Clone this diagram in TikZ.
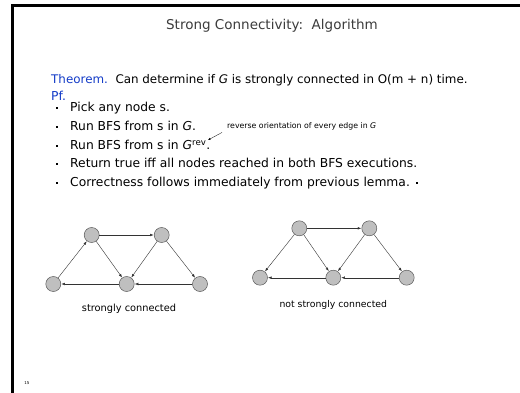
\documentclass[tikz,border=0pt]{standalone}
\usepackage{fontspec}
\setmainfont{DejaVu Sans}
\usetikzlibrary{arrows.meta}
\definecolor{thmblue}{RGB}{20,60,200}
\definecolor{titlegray}{RGB}{60,60,60}
\begin{document}
\begin{tikzpicture}[x=1pt,y=-1pt,
  vtx/.style={circle,draw=black!65,fill=black!25,minimum size=15pt,inner sep=0pt,line width=0.5pt},
  edge/.style={-{Latex[length=3.5pt,width=2.6pt]},line width=0.4pt,draw=black!80,shorten >=0.3pt},
  body/.style={anchor=base west,inner sep=0pt,font=\fontsize{12.3}{14}\selectfont},
  bul/.style={fill=black,minimum size=2pt,inner sep=0pt},
  lab/.style={inner sep=0pt,font=\fontsize{9.3}{11}\selectfont}
]
\useasboundingbox (0,0) rectangle (520,393);
\fill[white] (0,0) rectangle (520,393);
\draw[line width=3pt] (12,393) -- (12,6) -- (521,6);

\node[inner sep=0pt,anchor=base,text=titlegray,font=\fontsize{13.5}{15}\selectfont] (title) at (272,30) {Strong Connectivity:\ \ Algorithm};

\node[body,font=\fontsize{11.9}{14}\selectfont] (thm) at (51,84) {\textcolor{thmblue}{Theorem.}\ \ Can determine if \textit{G} is strongly connected in O(m + n) time.};
\node[body,text=thmblue] (pf) at (51,101) {Pf.};

\node[bul] (b1) at (57,108) {};
\node[bul] (b2) at (57,127) {};
\node[bul] (b3) at (57,146) {};
\node[bul] (b4) at (57,164) {};
\node[bul] (b5) at (57,183) {};
\node[body] (l1) at (70,111.5) {Pick any node s.};
\node[body] (l2) at (70,130.5) {Run BFS from s in \textit{G}.};
\node[body] (l3) at (70,149.5) {Run BFS from s in \textit{G}\textsuperscript{rev}.};
\node[body] (l4) at (70,167.5) {Return true iff all nodes reached in both BFS executions.};
\node[body] (l5) at (70,186.5) {Correctness follows immediately from previous lemma.};
\node[bul] (qed) at (417,183) {};

\node[anchor=base west,inner sep=0pt,font=\fontsize{7.8}{9}\selectfont] (note) at (227,129) {reverse orientation of every edge in \textit{G}};
\coordinate (ns) at (222,132.5);
\coordinate (nt) at (208,140);
\draw[-{Latex[length=2.5pt,width=2pt]},line width=0.3pt] (ns) -- (nt);

% graph 1
\node[vtx] (a1) at (91.7,235) {};
\node[vtx] (a2) at (161.7,235) {};
\node[vtx] (a3) at (53.3,284) {};
\node[vtx] (a4) at (126.7,284) {};
\node[vtx] (a5) at (200,284) {};
\draw[edge] (a1) -- (a2);
\draw[edge] (a3) -- (a1);
\draw[edge] (a1) -- (a4);
\draw[edge] (a2) -- (a4);
\draw[edge] (a2) -- (a5);
\draw[edge] (a5) -- (a4);
\draw[edge] (a4) -- (a3);
\node[lab,font=\fontsize{9.8}{11}\selectfont] (c1) at (129,309) {strongly connected};

% graph 2
\node[vtx] (b1n) at (299.3,228.3) {};
\node[vtx] (b2n) at (369.3,228.3) {};
\node[vtx] (b3n) at (260,277.7) {};
\node[vtx] (b4n) at (333.3,277.7) {};
\node[vtx] (b5n) at (406.7,277.7) {};
\draw[edge] (b1n) -- (b2n);
\draw[edge] (b1n) -- (b3n);
\draw[edge] (b1n) -- (b4n);
\draw[edge] (b2n) -- (b4n);
\draw[edge] (b2n) -- (b5n);
\draw[edge] (b5n) -- (b4n);
\draw[edge] (b4n) -- (b3n);
\node[lab] (c2) at (333.3,305) {not strongly connected};

\node[inner sep=0pt,font=\fontsize{4}{5}\selectfont] (pg) at (27,383) {15};
\end{tikzpicture}
\end{document}
